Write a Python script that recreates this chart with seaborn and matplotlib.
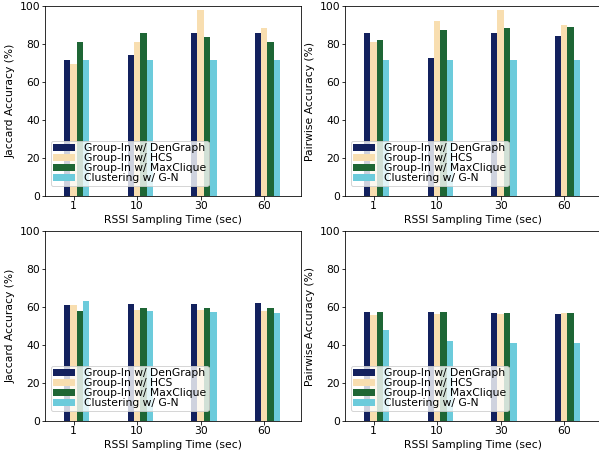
import numpy as np
import pandas as pd
import seaborn as sns
import matplotlib
matplotlib.use("Agg")
import matplotlib.pyplot as plt

times = ["1", "10", "30", "60"]
methods = ["Group-In w/ DenGraph", "Group-In w/ HCS",
           "Group-In w/ MaxClique", "Clustering w/ G-N"]
colors = ["#13215e", "#f8deb0", "#1e6635", "#6ccbdb"]

# top row
jac_top = {
    "Group-In w/ DenGraph": [71.4, 74.2, 85.7, 85.7],
    "Group-In w/ HCS": [69.5, 81.0, 97.9, 88.4],
    "Group-In w/ MaxClique": [81.0, 85.7, 83.9, 81.0],
    "Clustering w/ G-N": [71.4, 71.4, 71.4, 71.4],
}
pair_top = {
    "Group-In w/ DenGraph": [85.7, 72.6, 85.7, 84.2],
    "Group-In w/ HCS": [81.0, 92.1, 97.9, 90.0],
    "Group-In w/ MaxClique": [82.1, 87.4, 88.4, 88.9],
    "Clustering w/ G-N": [71.4, 71.4, 71.4, 71.4],
}
# bottom row
jac_bot = {
    "Group-In w/ DenGraph": [61.1, 61.6, 61.6, 62.3],
    "Group-In w/ HCS": [61.1, 58.4, 58.4, 57.9],
    "Group-In w/ MaxClique": [57.9, 59.5, 59.5, 59.5],
    "Clustering w/ G-N": [63.2, 57.9, 57.4, 56.8],
}
pair_bot = {
    "Group-In w/ DenGraph": [57.4, 57.4, 56.8, 56.3],
    "Group-In w/ HCS": [55.8, 56.3, 56.3, 56.8],
    "Group-In w/ MaxClique": [57.4, 57.4, 56.8, 56.8],
    "Clustering w/ G-N": [47.9, 42.1, 41.1, 41.1],
}

plt.rcParams["font.family"] = ["DejaVu Sans"]
plt.rcParams["font.size"] = 10.8

fig = plt.figure(figsize=(599 / 72, 453 / 72), dpi=72)
W, H = 599.0, 453.0
panels = [
    (jac_top, "Jaccard Accuracy (%)", 45, 6),
    (pair_top, "Pairwise Accuracy (%)", 345, 6),
    (jac_bot, "Jaccard Accuracy (%)", 45, 231),
    (pair_bot, "Pairwise Accuracy (%)", 345, 231),
]

for data, ylab, left, top in panels:
    ax = fig.add_axes([left / W, 1 - (top + 190) / H, 255.7 / W, 190 / H])
    rows = []
    for m in methods:
        for t, v in zip(times, data[m]):
            rows.append({"time": t, "acc": v, "method": m})
    df = pd.DataFrame(rows)
    sns.barplot(data=df, x="time", y="acc", hue="method", hue_order=methods,
                palette=colors, saturation=1, width=0.4, errorbar=None,
                linewidth=0, ax=ax)
    ax.set_xticks([i - 0.05 for i in range(len(times))])
    ax.set_xticklabels(times)
    ax.set_xlim(-0.5, 3.525)
    ax.set_ylim(0, 100)
    ax.set_yticks([0, 20, 40, 60, 80, 100])
    ax.tick_params(axis="both", pad=1.5)
    ax.set_xlabel("RSSI Sampling Time (sec)")
    ax.set_ylabel(ylab)
    ax.legend(loc="lower left", bbox_to_anchor=(0.022, 0.053),
              borderaxespad=0, labelspacing=0, borderpad=0.25)

fig.savefig("out.png", dpi=72)
